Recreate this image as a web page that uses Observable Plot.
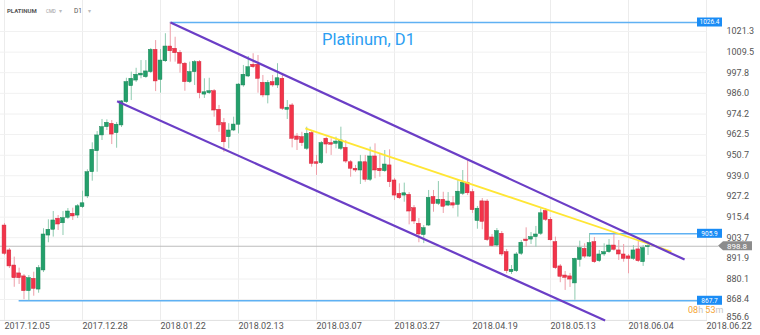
<!DOCTYPE html>
<html><head><meta charset="utf-8">
<script src="https://cdn.jsdelivr.net/npm/d3@7"></script>
<script src="https://cdn.jsdelivr.net/npm/@observablehq/plot@0.6"></script>
<style>
html,body{margin:0;padding:0;background:#fff;}
svg{display:block;font-family:Roboto,"DejaVu Sans",sans-serif;}
</style>
</head><body><div id="chart"></div>
<script>
// ---- data (daily candles, bar index = position in arrays) ----
const opens = [
910.6, 896.4, 887.8, 883.3, 881.6, 873.2, 880.2, 874.1, 885.0, 904.9,
908.2, 914.5, 911.9, 915.0, 917.3, 916.3, 921.1, 927.2, 941.0, 953.0,
962.0, 966.7, 968.6, 963.3, 967.7, 981.0, 990.1, 993.3, 996.2, 995.2,
998.1, 1010.8, 993.7, 1004.3, 1012.7, 1011.4, 1009.1, 1002.9, 992.4, 998.1,
1003.8, 985.3, 986.1, 987.2, 976.6, 969.0, 961.0, 964.8, 968.1, 990.5,
995.6, 1002.3, 1002.3, 992.0, 984.8, 992.4, 990.5, 994.3, 976.6, 979.1,
961.4, 961.0, 954.4, 963.3, 946.7, 946.2, 960.1, 957.6, 957.2, 954.4,
954.9, 946.7, 943.0, 942.0, 946.7, 936.7, 950.0, 943.0, 941.6, 944.9,
936.3, 928.7, 927.7, 928.1, 920.5, 911.6, 905.2, 910.6, 926.9, 923.0,
925.3, 922.0, 923.3, 922.4, 928.7, 935.0, 929.6, 913.2, 924.4, 924.3,
903.8, 899.2, 905.9, 895.4, 884.0, 884.6, 894.5, 902.6, 902.6, 904.0,
905.9, 918.9, 913.9, 901.1, 887.3, 882.1, 881.6, 877.6, 891.0, 897.3,
892.9, 901.1, 890.3, 894.1, 895.4, 899.2, 896.4, 894.1, 893.0, 891.6,
897.0, 889.7, 898.3
];
const highs = [
911.8, 897.5, 892.6, 886.3, 882.7, 882.1, 884.0, 887.8, 908.8, 913.9,
918.6, 916.3, 918.6, 920.3, 920.5, 922.6, 930.2, 942.4, 957.8, 964.2,
971.1, 970.9, 970.5, 969.4, 981.9, 994.6, 998.1, 1000.3, 1004.7, 1004.7,
1011.6, 1016.1, 1011.0, 1020.0, 1026.4, 1018.0, 1010.4, 1003.6, 1003.8, 1004.7,
1004.7, 994.3, 994.6, 988.2, 979.1, 971.6, 968.7, 972.4, 991.6, 1001.9,
1007.0, 1008.6, 1007.6, 996.2, 993.3, 996.2, 1002.9, 996.2, 981.9, 980.2,
963.1, 963.8, 966.7, 964.8, 950.6, 958.5, 961.0, 960.1, 961.0, 966.7,
959.1, 947.7, 944.9, 950.6, 950.6, 955.3, 957.2, 951.5, 953.4, 953.8,
937.4, 934.4, 934.8, 929.4, 922.0, 914.6, 910.6, 930.6, 930.6, 935.7,
929.6, 929.4, 927.2, 936.3, 942.0, 947.7, 931.2, 921.5, 926.0, 925.4,
905.5, 908.9, 907.2, 896.9, 887.8, 895.2, 902.1, 909.3, 906.6, 910.1,
920.2, 920.2, 915.2, 904.0, 888.4, 884.4, 883.3, 892.0, 901.7, 900.2,
905.9, 903.8, 896.4, 900.2, 902.6, 905.5, 902.1, 899.8, 894.1, 899.2,
901.5, 899.2, 901.2
];
const lows = [
893.5, 886.1, 875.4, 877.0, 868.3, 867.7, 870.3, 872.0, 883.8, 900.8,
904.0, 907.8, 904.9, 914.1, 913.5, 914.6, 920.3, 926.0, 935.9, 941.0,
959.1, 964.8, 956.8, 954.7, 966.5, 980.2, 981.9, 992.2, 994.3, 994.5,
997.3, 987.0, 986.1, 1003.6, 1003.8, 1003.8, 997.5, 987.2, 991.6, 990.5,
982.9, 983.1, 985.3, 972.4, 963.8, 952.4, 954.4, 964.2, 962.9, 989.5,
995.0, 1000.2, 986.1, 983.5, 980.0, 989.5, 988.8, 976.2, 971.1, 954.9,
953.4, 955.7, 953.4, 943.9, 939.2, 945.4, 951.5, 950.6, 954.4, 953.4,
946.0, 938.2, 940.9, 934.0, 935.3, 935.7, 937.3, 938.2, 940.9, 932.3,
924.9, 925.5, 923.9, 911.0, 911.2, 900.8, 900.3, 910.1, 918.2, 922.0,
917.5, 921.4, 920.2, 915.4, 927.7, 927.7, 917.5, 908.5, 908.2, 901.5,
898.3, 898.4, 893.0, 883.1, 882.7, 883.8, 893.5, 898.3, 899.8, 898.3,
904.9, 912.9, 901.7, 885.5, 878.0, 873.6, 875.3, 868.0, 886.9, 891.8,
892.4, 889.0, 889.5, 893.0, 894.7, 896.0, 890.7, 889.7, 883.1, 890.7,
889.5, 887.3, 893.5
];
const closes = [
894.5, 887.3, 880.6, 880.6, 873.2, 880.6, 874.5, 886.3, 905.5, 908.2,
913.5, 911.2, 914.8, 918.6, 915.8, 921.6, 923.3, 941.0, 953.8, 962.0,
966.7, 969.2, 962.5, 968.1, 981.4, 992.4, 994.3, 996.6, 997.2, 998.5,
1010.8, 992.8, 1004.7, 1012.7, 1010.0, 1008.9, 1002.9, 992.4, 998.1, 1003.8,
986.1, 986.6, 987.2, 976.2, 967.7, 958.1, 964.8, 968.2, 991.0, 996.6,
1000.9, 1000.9, 994.3, 984.8, 992.0, 990.5, 994.6, 977.2, 977.8, 960.1,
959.5, 957.6, 962.9, 945.8, 945.8, 957.6, 956.8, 956.7, 958.5, 959.1,
947.1, 943.0, 942.0, 946.7, 936.7, 950.0, 942.0, 941.6, 945.4, 935.3,
927.7, 926.2, 929.0, 918.6, 912.9, 905.5, 909.1, 926.4, 922.9, 925.3,
921.3, 924.3, 922.0, 929.9, 935.0, 929.0, 919.4, 920.2, 912.7, 902.3,
898.9, 907.4, 894.1, 884.6, 885.4, 894.1, 900.8, 901.7, 904.0, 905.5,
917.6, 913.9, 902.2, 886.3, 881.4, 880.8, 879.8, 891.6, 897.7, 892.9,
900.6, 889.7, 894.1, 895.4, 899.2, 896.8, 894.1, 891.6, 891.6, 896.4,
890.3, 897.7, 898.8
];
const xTickBars = [0, 16, 32, 48, 64, 80, 96, 112, 128, 144];
const xTickLabels = ["2017.12.05","2017.12.28","2018.01.22","2018.02.13","2018.03.07",
                     "2018.03.27","2018.04.19","2018.05.13","2018.06.04","2018.06.22"];
const yTicks = [856.6, 868.4, 880.1, 891.9, 903.7, 915.4, 927.2, 939.0, 950.7,
                962.5, 974.2, 986.0, 997.8, 1009.5, 1021.3];
const levelPrices = [1026.4, 905.9, 867.7];
const levelStartBars = [34, 120, 3];
const lastPrice = 898.8;
const channelX1 = [34.05, 23.1], channelY1 = [1026.4, 981.5];
const channelX2 = [139.5, 123.2], channelY2 = [891.2, 856.5];
const resistX1 = [61.7], resistY1 = [966.0], resistX2 = [136.8], resistY2 = [895.8];
const title = "Platinum, D1";
const countdown = ["08", "h ", "53", "m"];
const xDomain = [-0.82, 144.2];
const yDomain = [856.45, 1038.95];

// ---- build tables ----
const candles = opens.map((o, i) => ({i, o, h: highs[i], l: lows[i], c: closes[i], up: closes[i] >= o}));
const levels = levelPrices.map((v, k) => ({v, start: levelStartBars[k]}));
const channel = channelX1.map((x, k) => ({x1: x, y1: channelY1[k], x2: channelX2[k], y2: channelY2[k]}));
const resist = resistX1.map((x, k) => ({x1: x, y1: resistY1[k], x2: resistX2[k], y2: resistY2[k]}));

const GREEN = "#23a06b", GREEN_EDGE = "#178356", GREEN_WICK = "#8fcbb0";
const RED = "#f2344a", RED_EDGE = "#d2253a", RED_WICK = "#ee9ea8";

const plot = Plot.plot({
  width: 760, height: 335,
  marginLeft: 0, marginRight: 53, marginTop: 0, marginBottom: 15,
  style: {fontFamily: "Roboto, sans-serif", background: "#fff", overflow: "visible"},
  x: {type: "linear", domain: xDomain, axis: null},
  y: {type: "linear", domain: yDomain, axis: null},
  marks: [
    Plot.gridX(xTickBars, {stroke: "#ececec", strokeOpacity: 1}),
    Plot.gridY(yTicks, {stroke: "#f1f1f1", strokeOpacity: 1}),
    Plot.ruleY([yDomain[0]], {stroke: "#e2e2e2"}),
    Plot.ruleY([lastPrice], {x1: xDomain[0], x2: 146.5, stroke: "#bdbdbd", strokeWidth: 1.2}),
    Plot.ruleY(levels, {y: "v", x1: "start", x2: xDomain[1], stroke: "#5fb1f3", strokeWidth: 1.4}),
    Plot.ruleX(candles, {x: "i", y1: "l", y2: "h", stroke: d => d.up ? GREEN_WICK : RED_WICK, strokeWidth: 1}),
    Plot.rect(candles, {x1: d => d.i - 0.39, x2: d => d.i + 0.39, y1: "o", y2: "c",
      fill: d => d.up ? GREEN : RED, stroke: d => d.up ? GREEN_EDGE : RED_EDGE, strokeWidth: 0.5}),
    Plot.link(resist, {x1: "x1", y1: "y1", x2: "x2", y2: "y2", stroke: "#ffe635", strokeWidth: 1.8}),
    Plot.link(channel, {x1: "x1", y1: "y1", x2: "x2", y2: "y2", stroke: "#6b3ec6", strokeWidth: 2.2}),
    Plot.axisY(yTicks.slice(1), {anchor: "right", tickSize: 0, tickPadding: 19, tickFormat: d => d.toFixed(1),
      fontSize: 9, fill: "#555", textAnchor: "start"}),
    Plot.axisY(yTicks.slice(0, 1), {anchor: "right", tickSize: 0, tickPadding: 19, tickFormat: d => d.toFixed(1),
      fontSize: 9, fill: "#555", textAnchor: "start", dy: -3}),
    Plot.axisX(xTickBars, {anchor: "bottom", tickSize: 0, tickPadding: 2,
      tickFormat: d => xTickLabels[xTickBars.indexOf(d)], textAnchor: "start", fontSize: 9, fill: "#555"}),
    Plot.text([title], {frameAnchor: "top", dx: 14.5, dy: 33, fontSize: 16.5, fill: "#2c9ef2", textAnchor: "middle"})
  ]
});
document.getElementById("chart").appendChild(plot);

// ---- price badges, header and countdown drawn with Plot's own y scale ----
const ys = plot.scale("y");
const svg = d3.select(plot);
levelPrices.forEach(v => {
  const y = ys.apply(v);
  const g = svg.append("g").attr("text-anchor", "middle");
  g.append("rect").attr("x", 697).attr("y", y - 4.5).attr("width", 25).attr("height", 9).attr("fill", "#1a8cf5");
  g.append("text").attr("x", 709.5).attr("y", y).attr("dy", "0.35em")
    .attr("font-size", 6.5).attr("fill", "#fff").text(v.toFixed(1));
});
{
  const y = ys.apply(lastPrice);
  const g = svg.append("g").attr("text-anchor", "middle");
  g.append("path").attr("d", `M718,${y} L723,${y - 4.5} L752,${y - 4.5} L752,${y + 4.5} L723,${y + 4.5} Z`).attr("fill", "#8c8c8c");
  g.append("text").attr("x", 737).attr("y", y).attr("dy", "0.35em")
    .attr("font-size", 8).attr("fill", "#fff").text(lastPrice.toFixed(1));
}
{
  const t = svg.append("text").attr("x", 688).attr("y", 313).attr("font-size", 9).attr("text-anchor", "start");
  countdown.forEach((s, k) => t.append("tspan").attr("fill", k % 2 === 0 ? "#f5a431" : "#c4c4c4").text(s));
}
{
  const h = svg.append("g").attr("font-family", "Roboto, sans-serif").attr("text-anchor", "start");
  h.append("text").attr("x", 7).attr("y", 13).attr("font-size", 6).attr("font-weight", "bold").attr("fill", "#555").text("PLATINUM");
  h.append("text").attr("x", 46).attr("y", 13).attr("font-size", 4.5).attr("fill", "#999").text("CMD");
  h.append("text").attr("x", 59).attr("y", 13).attr("font-size", 6).attr("fill", "#bbb").text("▾");
  h.append("text").attr("x", 74).attr("y", 13).attr("font-size", 6.5).attr("fill", "#555").text("D1");
  h.append("text").attr("x", 88).attr("y", 13).attr("font-size", 6).attr("fill", "#bbb").text("▾");
}
</script>
</body></html>
